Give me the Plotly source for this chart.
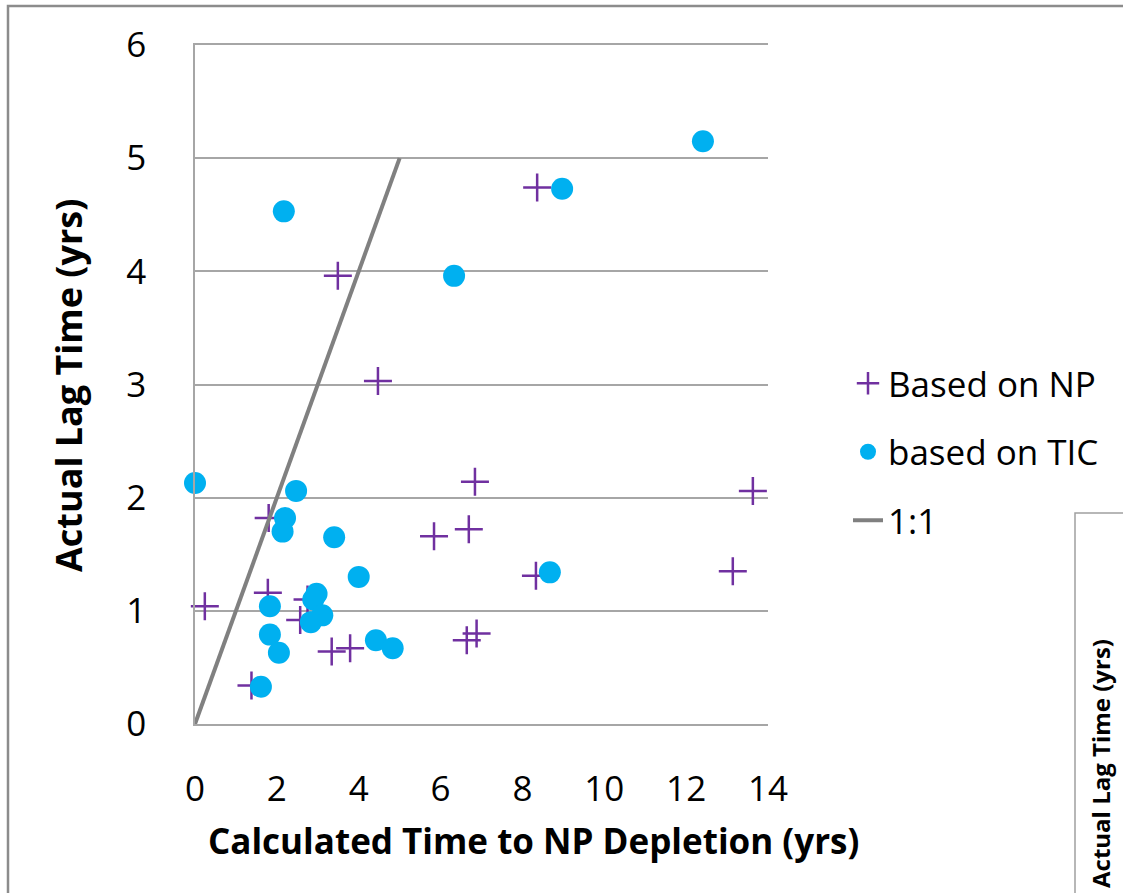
import plotly.graph_objects as go

# Data
np_x = [3.49, 4.47, 8.36, 6.84, 13.63, 5.84, 6.69, 13.14, 8.33, 0.24, 1.80, 1.78, 2.75, 2.57, 3.34, 3.79, 6.64, 6.88, 1.38]
np_y = [3.96, 3.03, 4.74, 2.14, 2.06, 1.66, 1.72, 1.35, 1.31, 1.04, 1.82, 1.16, 1.10, 0.92, 0.64, 0.67, 0.74, 0.80, 0.34]

tic_x = [12.41, 8.97, 2.17, 6.33, 0.0, 2.47, 2.20, 2.14, 3.40, 4.00, 1.83, 2.97, 2.89, 3.11, 2.83, 1.83, 2.05, 4.42, 4.83, 1.61, 8.67]
tic_y = [5.15, 4.73, 4.53, 3.96, 2.13, 2.06, 1.82, 1.70, 1.65, 1.30, 1.04, 1.15, 1.10, 0.96, 0.90, 0.79, 0.63, 0.74, 0.67, 0.33, 1.34]

line_x = [0, 5]
line_y = [0, 5]

x_ticks = [0, 2, 4, 6, 8, 10, 12, 14]
y_ticks = [0, 1, 2, 3, 4, 5, 6]

W, H = 1123, 893
L, R, T, B = 195, 768, 45, 724

def px(x):
    return (x - L) / (R - L)

def py(y):
    return (B - y) / (B - T)

FONT = "Open Sans"
GRID = "#a6a6a6"

fig = go.Figure()
fig.add_trace(go.Scatter(
    x=np_x, y=np_y, mode="markers", name="Based on NP", legendgroup="a",
    marker=dict(symbol="cross-thin", size=20, color="#7030A0",
                line=dict(color="#7030A0", width=2.5)),
    cliponaxis=False))
fig.add_trace(go.Scatter(
    x=tic_x, y=tic_y, mode="markers", name="based on TIC", legendgroup="b",
    marker=dict(symbol="circle", size=22, color="#00B0F0", line=dict(width=0)),
    cliponaxis=False))
fig.add_trace(go.Scatter(
    x=line_x, y=line_y, mode="lines", name="1:1", legendgroup="c",
    line=dict(color="#808080", width=4), cliponaxis=False))

fig.update_layout(
    width=W, height=H,
    margin=dict(l=L, r=W - R, t=T, b=H - B),
    paper_bgcolor="white", plot_bgcolor="white",
    font=dict(family=FONT, color="#000000"),
    showlegend=True,
    legend=dict(x=px(848), y=py(354), xanchor="left", yanchor="top",
                font=dict(size=35, family=FONT, color="#000000"),
                tracegroupgap=20, bgcolor="rgba(0,0,0,0)"),
    xaxis=dict(range=[0, 14], tickvals=x_ticks, ticktext=[str(v) for v in x_ticks],
               showgrid=False, zeroline=False, showline=True, mirror=True,
               linecolor=GRID, linewidth=1.5, ticks="", ticklabelstandoff=33,
               tickfont=dict(size=35, family=FONT, color="#000000")),
    yaxis=dict(range=[0, 6], tickvals=y_ticks, ticktext=[str(v) for v in y_ticks],
               showgrid=True, gridcolor=GRID, gridwidth=1.5, zeroline=False,
               showline=True, linecolor=GRID, linewidth=1.5, ticks="",
               ticklabelstandoff=40,
               tickfont=dict(size=35, family=FONT, color="#000000")),
    annotations=[
        dict(text="<b>Calculated Time to NP Depletion (yrs)</b>", xref="paper", yref="paper",
             x=px(533), y=py(840), xanchor="center", yanchor="middle", showarrow=False,
             font=dict(size=35, family=FONT, color="#000000")),
        dict(text="<b>Actual Lag Time (yrs)</b>", xref="paper", yref="paper",
             x=px(68), y=py(386), xanchor="center", yanchor="middle", showarrow=False,
             textangle=-90, font=dict(size=36, family=FONT, color="#000000")),
        dict(text="<b>Actual Lag Time (yrs)</b>", xref="paper", yref="paper",
             x=px(1100), y=py(764), xanchor="center", yanchor="middle", showarrow=False,
             textangle=-90, font=dict(size=24, family=FONT, color="#000000")),
    ],
    shapes=[
        dict(type="rect", xref="paper", yref="paper", x0=px(8), x1=px(1140),
             y0=py(6), y1=py(905), line=dict(color="#8c8c8c", width=2.5),
             fillcolor="rgba(0,0,0,0)", layer="above"),
        dict(type="rect", xref="paper", yref="paper", x0=px(1075), x1=px(1140),
             y0=py(513), y1=py(905), line=dict(color="#a0a0a0", width=1.5),
             fillcolor="rgba(0,0,0,0)", layer="above"),
    ],
)

fig.write_html("out.html")
